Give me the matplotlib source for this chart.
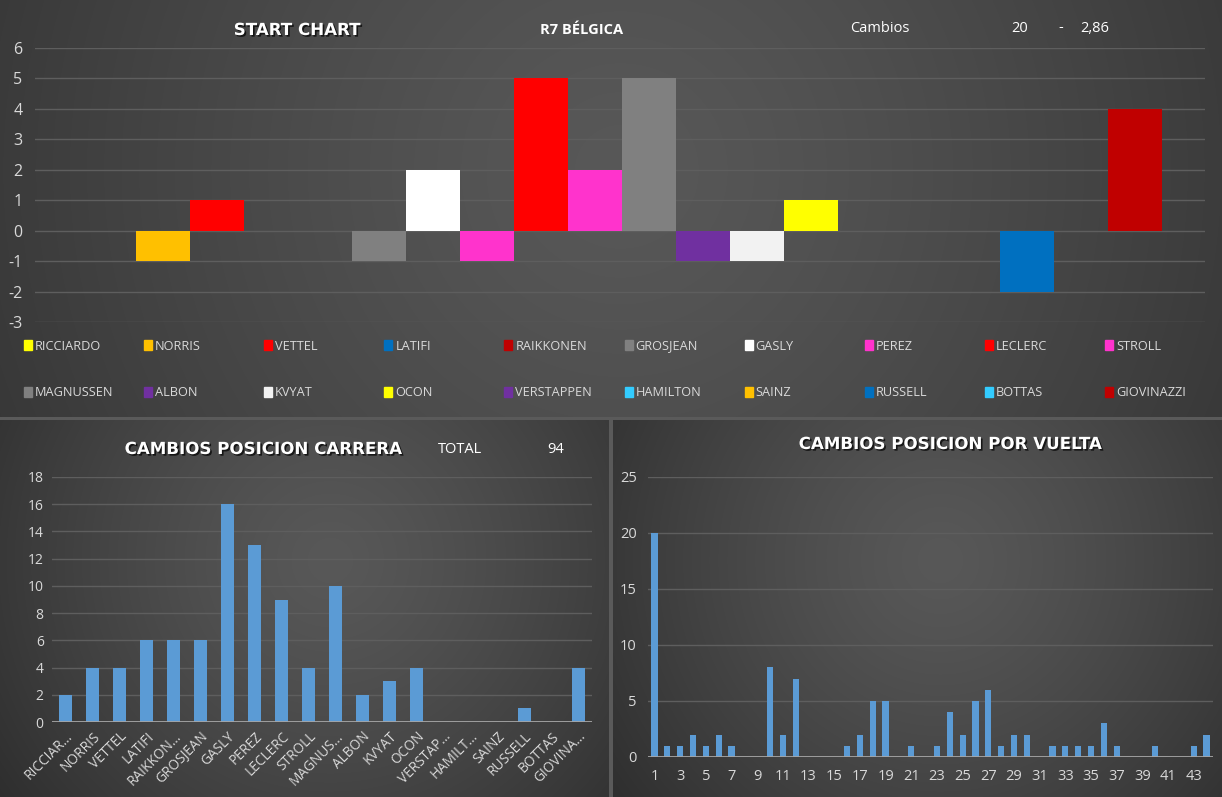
import numpy as np
import matplotlib
matplotlib.use("Agg")
import matplotlib.pyplot as plt
import matplotlib.patheffects as pe

plt.rcParams["axes.unicode_minus"] = False

# datos
pilotos = ["RICCIARDO", "NORRIS", "VETTEL", "LATIFI", "RAIKKONEN", "GROSJEAN", "GASLY",
           "PEREZ", "LECLERC", "STROLL", "MAGNUSSEN", "ALBON", "KVYAT", "OCON",
           "VERSTAPPEN", "HAMILTON", "SAINZ", "RUSSELL", "BOTTAS", "GIOVINAZZI"]
colores = ["#FFFF00", "#FFC000", "#FF0000", "#0070C0", "#C00000", "#808080", "#FFFFFF",
           "#FF33CC", "#FF0000", "#FF33CC", "#808080", "#7030A0", "#F2F2F2", "#FFFF00",
           "#7030A0", "#33CCFF", "#FFC000", "#0070C0", "#33CCFF", "#C00000"]
salida = [0, -1, 1, 0, 0, -1, 2, -1, 5, 2, 5, -1, -1, 1, 0, 0, 0, -2, 0, 4]
cambios_carrera = [2, 4, 4, 6, 6, 6, 16, 13, 9, 4, 10, 2, 3, 4, 0, 0, 0, 1, 0, 4]
etiquetas_carrera = ["RICCIAR…", "NORRIS", "VETTEL", "LATIFI", "RAIKKON…", "GROSJEAN",
                     "GASLY", "PEREZ", "LECLERC", "STROLL", "MAGNUS…", "ALBON", "KVYAT",
                     "OCON", "VERSTAP…", "HAMILT…", "SAINZ", "RUSSELL", "BOTTAS", "GIOVINA…"]
vueltas = list(range(1, 45))
cambios_vuelta = [20, 1, 1, 2, 1, 2, 1, 0, 0, 8, 2, 7, 0, 0, 0, 1, 2, 5, 5, 0, 1, 0,
                  1, 4, 2, 5, 6, 1, 2, 2, 0, 1, 1, 1, 1, 3, 1, 0, 0, 1, 0, 0, 1, 2]

W, H = 1222, 797
fig = plt.figure(figsize=(W / 100, H / 100), dpi=100)
fig.patch.set_facecolor("#5a5a5a")

TXT = "#d9d9d9"
GRID = "#5e5e5e"
FONT = "Open Sans"
TFONT = "DejaVu Sans"
sombra = [pe.withSimplePatchShadow(offset=(1.2, -1.2), shadow_rgbFace="black", alpha=0.7)]


def caja(x0, y0, x1, y1):
    # pixeles -> fraccion de figura
    return [x0 / W, 1 - y1 / H, (x1 - x0) / W, (y1 - y0) / H]


def fondo(x0, y0, x1, y1, cx, cy):
    ax = fig.add_axes(caja(x0, y0, x1, y1))
    w, h = x1 - x0, y1 - y0
    xx, yy = np.meshgrid(np.arange(w), np.arange(h))
    d = np.sqrt(((xx - (cx - x0)) / (w * 0.75)) ** 2 + ((yy - (cy - y0)) / (w * 0.75)) ** 2)
    d = np.clip(d, 0, 1)
    c = 0.345 - (0.345 - 0.155) * d ** 1.3
    img = np.dstack([c, c, c])
    ax.imshow(img, aspect="auto", extent=[0, w, h, 0])
    ax.set_axis_off()
    return ax


def estilo(ax):
    ax.set_facecolor("none")
    for s in ax.spines.values():
        s.set_visible(False)
    ax.yaxis.grid(True, color=GRID, lw=1)
    ax.set_axisbelow(True)
    ax.tick_params(length=0, colors=TXT)


# paneles
fondo(0, 0, W, 417, 620, 170)
fondo(0, 420, 609, H, 330, 560)
fondo(613, 420, W, H, 940, 560)

# ---- START CHART ----
ax1 = fig.add_axes(caja(35, 48, 1205, 322))
estilo(ax1)
ax1.bar(np.arange(len(pilotos)), salida, width=1, align="edge", color=colores)
ax1.set_xlim(-0.87, 20.8)
ax1.set_ylim(-3, 6)
ax1.set_yticks(range(-3, 7))
ax1.set_xticks([])
for t in ax1.get_yticklabels():
    t.set_fontsize(11.5)
    t.set_family(FONT)
ax1.tick_params(axis="y", pad=9)

fig.text(297 / W, 1 - 30 / H, "START CHART", color="white",
         fontsize=12, fontweight="bold", family=TFONT, ha="center", va="center",
         path_effects=sombra)
fig.text(582 / W, 1 - 30 / H, "R7 BÉLGICA", color="white", fontsize=10.5, fontweight="bold",
         family=FONT, ha="center", va="center")
fig.text(880 / W, 1 - 28 / H, "Cambios", color="white", fontsize=10.5, family=FONT,
         ha="center", va="center")
fig.text(1020 / W, 1 - 28 / H, "20", color="white", fontsize=10.5, family=FONT,
         ha="center", va="center")
fig.text(1061 / W, 1 - 27 / H, "-", color="white", fontsize=10.5, family=FONT,
         ha="center", va="center")
fig.text(1095 / W, 1 - 28 / H, "2,86", color="white", fontsize=10.5, family=FONT,
         ha="center", va="center")

# leyenda
for i, (p, c) in enumerate(zip(pilotos, colores)):
    fila, col = divmod(i, 10)
    x = 24 + col * 120.1
    y = 345 + fila * 47
    fig.patches.append(plt.Rectangle((x / W, 1 - (y + 5) / H), 8 / W, 10 / H,
                                     color=c, transform=fig.transFigure, figure=fig))
    fig.text((x + 11) / W, 1 - (y + 1) / H, p, color=TXT, fontsize=9.2, family=FONT,
             ha="left", va="center")

# ---- CAMBIOS POSICION CARRERA ----
ax2 = fig.add_axes(caja(52, 477, 592, 722))
estilo(ax2)
ax2.bar(np.arange(len(pilotos)), cambios_carrera, width=0.48, color="#5B9BD5")
ax2.set_xlim(-0.5, len(pilotos) - 0.5)
ax2.set_ylim(0, 18)
ax2.set_yticks(range(0, 19, 2))
ax2.axhline(0, color="#a6a6a6", lw=2)
ax2.set_xticks(np.arange(len(pilotos)))
ax2.set_xticklabels(etiquetas_carrera, rotation=45, ha="right", rotation_mode="anchor",
                    fontsize=9.8, family=FONT)
for t in ax2.get_yticklabels():
    t.set_fontsize(10)
    t.set_family(FONT)
ax2.tick_params(axis="y", pad=6)
ax2.tick_params(axis="x", pad=5)

fig.text(263 / W, 1 - 449 / H, "CAMBIOS POSICION CARRERA",
         color="white", fontsize=12, fontweight="bold", family=TFONT, ha="center",
         va="center", path_effects=sombra)
fig.text(460 / W, 1 - 449 / H, "TOTAL", color="white", fontsize=10.5, family=FONT,
         ha="center", va="center")
fig.text(556 / W, 1 - 449 / H, str(sum(cambios_vuelta)), color="white", fontsize=10.5,
         family=FONT, ha="center", va="center")

# ---- CAMBIOS POSICION POR VUELTA ----
ax3 = fig.add_axes(caja(648, 477, 1213, 757))
estilo(ax3)
ax3.bar(vueltas, cambios_vuelta, width=0.48, color="#5B9BD5")
ax3.set_xlim(0.5, 44.5)
ax3.set_ylim(0, 25)
ax3.set_yticks(range(0, 26, 5))
ax3.axhline(0, color="#a6a6a6", lw=2)
ax3.set_xticks(vueltas[::2])
for t in ax3.get_xticklabels() + ax3.get_yticklabels():
    t.set_fontsize(10.5)
    t.set_family(FONT)
ax3.tick_params(axis="y", pad=8)
ax3.tick_params(axis="x", pad=9)

fig.text(950 / W, 1 - 444 / H, "CAMBIOS POSICION POR VUELTA",
         color="white", fontsize=12, fontweight="bold", family=TFONT, ha="center",
         va="center", path_effects=sombra)

fig.savefig("out.png", dpi=100, facecolor=fig.get_facecolor())
